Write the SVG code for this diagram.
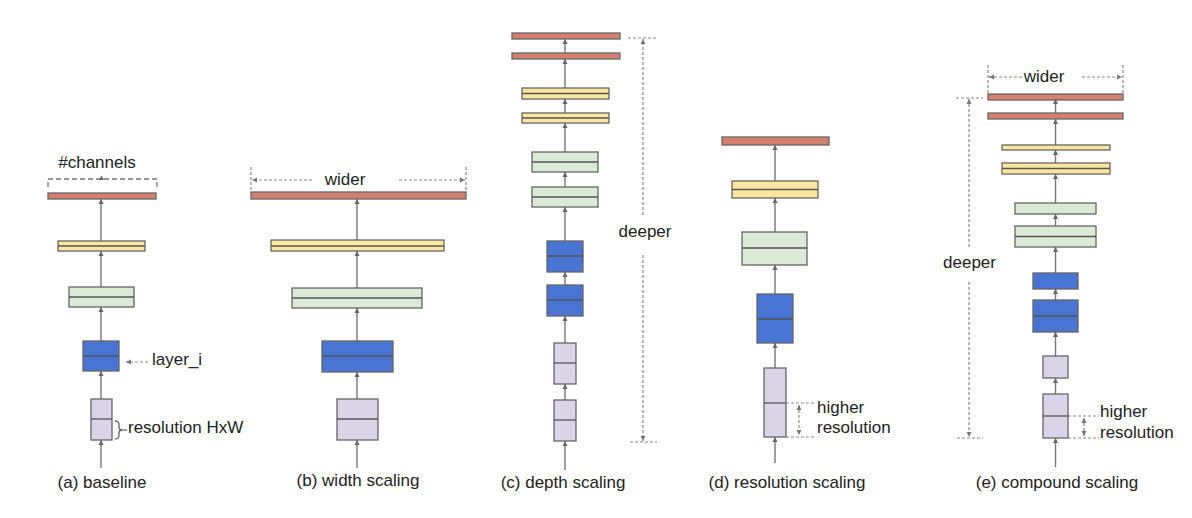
<svg xmlns="http://www.w3.org/2000/svg" width="1192" height="518" viewBox="0 0 1192 518">
<style>
text{font-family:"Liberation Sans",Arial,sans-serif;font-size:17px;fill:#222}
.lbl{text-anchor:middle}
.b{stroke:#666;stroke-width:1.3}
.r{fill:#d5806e}
.y{fill:#fde7a0}
.g{fill:#dbead4}
.u{fill:#4874d3}
.p{fill:#d9d4e8}
.m{stroke:#555;stroke-width:1.3}
.c{stroke:#777;stroke-width:1.4;fill:none;marker-end:url(#ah)}
.d{stroke:#888;stroke-width:1.2;fill:none;stroke-dasharray:3 2}
.dk{stroke:#777;stroke-width:1.3;fill:none;stroke-dasharray:5 3}
</style>
<defs>
<marker id="ah" markerUnits="userSpaceOnUse" markerWidth="6" markerHeight="6" refX="5" refY="3" orient="auto">
<path d="M0,0.5 L5,3 L0,5.5 z" fill="#666"/>
</marker>
<marker id="dh" markerUnits="userSpaceOnUse" markerWidth="6" markerHeight="6" refX="5" refY="3" orient="auto-start-reverse">
<path d="M0,0.5 L5,3 L0,5.5 z" fill="#777"/>
</marker>
</defs>
<rect width="1192" height="518" fill="#fff"/>

<g id="connectors">
<!-- a -->
<line class="c" x1="101" y1="468" x2="101" y2="440"/>
<line class="c" x1="101" y1="399" x2="101" y2="371"/>
<line class="c" x1="101" y1="341" x2="101" y2="307"/>
<line class="c" x1="101" y1="287" x2="101" y2="251"/>
<line class="c" x1="101" y1="241" x2="101" y2="199"/>
<!-- b -->
<line class="c" x1="357" y1="468" x2="357" y2="440"/>
<line class="c" x1="357" y1="399" x2="357" y2="372"/>
<line class="c" x1="357" y1="341" x2="357" y2="308"/>
<line class="c" x1="357" y1="288" x2="357" y2="251"/>
<line class="c" x1="357" y1="240" x2="357" y2="199"/>
<!-- c -->
<line class="c" x1="565" y1="470" x2="565" y2="441"/>
<line class="c" x1="565" y1="400" x2="565" y2="384"/>
<line class="c" x1="565" y1="343" x2="565" y2="316"/>
<line class="c" x1="565" y1="285" x2="565" y2="272"/>
<line class="c" x1="565" y1="241" x2="565" y2="207"/>
<line class="c" x1="565" y1="187" x2="565" y2="172"/>
<line class="c" x1="565" y1="152" x2="565" y2="123"/>
<line class="c" x1="565" y1="113" x2="565" y2="99"/>
<line class="c" x1="565" y1="88" x2="565" y2="59"/>
<line class="c" x1="565" y1="53" x2="565" y2="39"/>
<!-- d -->
<line class="c" x1="775" y1="463" x2="775" y2="437"/>
<line class="c" x1="775" y1="368" x2="775" y2="343"/>
<line class="c" x1="775" y1="294" x2="775" y2="265"/>
<line class="c" x1="775" y1="232" x2="775" y2="198"/>
<line class="c" x1="775" y1="181" x2="775" y2="145"/>
<!-- e -->
<line class="c" x1="1055.5" y1="467" x2="1055.5" y2="438"/>
<line class="c" x1="1055.5" y1="394" x2="1055.5" y2="378"/>
<line class="c" x1="1055.5" y1="356" x2="1055.5" y2="332"/>
<line class="c" x1="1055.5" y1="300" x2="1055.5" y2="289"/>
<line class="c" x1="1055.5" y1="273" x2="1055.5" y2="247"/>
<line class="c" x1="1055.5" y1="226" x2="1055.5" y2="214"/>
<line class="c" x1="1055.5" y1="203" x2="1055.5" y2="174"/>
<line class="c" x1="1055.5" y1="163" x2="1055.5" y2="150"/>
<line class="c" x1="1055.5" y1="145" x2="1055.5" y2="119"/>
<line class="c" x1="1055.5" y1="113" x2="1055.5" y2="99"/>
</g>

<g id="annotations">
<!-- #channels bracket -->
<path class="dk" d="M48,187 V179 H157 V187"/>
<path d="M99,180 L101.5,175.5 L104,180 z" fill="#666"/>
<text x="97" y="168" class="lbl">#channels</text>
<!-- layer_i -->
<line class="d" x1="148" y1="362" x2="126" y2="362" marker-end="url(#dh)"/>
<text x="152" y="365">layer_i</text>
<!-- resolution HxW -->
<path d="M115,421 Q119,421 119,425 V427 Q119,430 122,430 Q119,430 119,433 V435 Q119,439 115,439" stroke="#666" stroke-width="1.3" fill="none"/>
<line x1="122" y1="430" x2="127" y2="430" stroke="#666" stroke-width="1.2"/>
<text x="128" y="433">resolution HxW</text>
<!-- b wider -->
<line class="d" x1="251" y1="167" x2="251" y2="193"/>
<line class="d" x1="466" y1="167" x2="466" y2="193"/>
<line class="d" x1="312" y1="180" x2="252" y2="180" marker-end="url(#dh)"/>
<line class="d" x1="399" y1="180" x2="465" y2="180" marker-end="url(#dh)"/>
<text x="345" y="185" class="lbl">wider</text>
<!-- c deeper -->
<line class="d" x1="628" y1="38" x2="656" y2="38"/>
<line class="d" x1="643" y1="215" x2="643" y2="39" marker-end="url(#dh)"/>
<line class="d" x1="643" y1="255" x2="643" y2="441" marker-end="url(#dh)"/>
<line class="d" x1="630" y1="442" x2="657" y2="442"/>
<text x="645" y="237" class="lbl">deeper</text>
<!-- d higher resolution -->
<line class="d" x1="786" y1="403" x2="814" y2="403"/>
<line class="d" x1="786" y1="437" x2="814" y2="437"/>
<line class="d" x1="799" y1="405" x2="799" y2="435" marker-start="url(#dh)" marker-end="url(#dh)"/>
<text x="817" y="413">higher</text>
<text x="817" y="433">resolution</text>
<!-- e wider -->
<line class="d" x1="988" y1="65" x2="988" y2="93"/>
<line class="d" x1="1123" y1="65" x2="1123" y2="93"/>
<line class="d" x1="1022" y1="77" x2="989" y2="77" marker-end="url(#dh)"/>
<line class="d" x1="1082" y1="77" x2="1122" y2="77" marker-end="url(#dh)"/>
<text x="1044" y="82" class="lbl">wider</text>
<!-- e deeper -->
<line class="d" x1="956" y1="98" x2="983" y2="98"/>
<line class="d" x1="969" y1="247" x2="969" y2="99" marker-end="url(#dh)"/>
<line class="d" x1="969" y1="282" x2="969" y2="437" marker-end="url(#dh)"/>
<line class="d" x1="957" y1="438" x2="983" y2="438"/>
<text x="969.5" y="268" class="lbl">deeper</text>
<!-- e higher resolution -->
<line class="d" x1="1068" y1="416" x2="1099" y2="416"/>
<line class="d" x1="1068" y1="438" x2="1099" y2="438"/>
<line class="d" x1="1084" y1="418" x2="1084" y2="436" marker-start="url(#dh)" marker-end="url(#dh)"/>
<text x="1100" y="417">higher</text>
<text x="1100" y="438">resolution</text>
</g>

<g id="col-a">
<rect class="b r" x="48" y="193" width="108" height="6"/>
<rect class="b y" x="58" y="241" width="87" height="10"/><line class="m" x1="58" y1="246" x2="145" y2="246"/>
<rect class="b g" x="69" y="287" width="65" height="20"/><line class="m" x1="69" y1="297" x2="134" y2="297"/>
<rect class="b u" x="83" y="341" width="36" height="30"/><line class="m" x1="83" y1="356" x2="119" y2="356"/>
<rect class="b p" x="91" y="399" width="21" height="41"/><line class="m" x1="91" y1="419" x2="112" y2="419"/>
<text x="102" y="488" class="lbl">(a) baseline</text>
</g>

<g id="col-b">
<rect class="b r" x="251" y="192" width="215" height="7"/>
<rect class="b y" x="271" y="240" width="173" height="11"/><line class="m" x1="271" y1="246" x2="444" y2="246"/>
<rect class="b g" x="292" y="288" width="130" height="20"/><line class="m" x1="292" y1="298" x2="422" y2="298"/>
<rect class="b u" x="322" y="341" width="71" height="31"/><line class="m" x1="322" y1="356" x2="393" y2="356"/>
<rect class="b p" x="337" y="399" width="41" height="41"/><line class="m" x1="337" y1="419" x2="378" y2="419"/>
<text x="358" y="486" class="lbl">(b) width scaling</text>
</g>

<g id="col-c">
<rect class="b r" x="512" y="33" width="108" height="6"/>
<rect class="b r" x="512" y="53" width="108" height="6"/>
<rect class="b y" x="522" y="88" width="87" height="11"/><line class="m" x1="522" y1="93.5" x2="609" y2="93.5"/>
<rect class="b y" x="522" y="113" width="87" height="10"/><line class="m" x1="522" y1="118" x2="609" y2="118"/>
<rect class="b g" x="532" y="152" width="66" height="20"/><line class="m" x1="532" y1="162" x2="598" y2="162"/>
<rect class="b g" x="532" y="187" width="66" height="20"/><line class="m" x1="532" y1="197" x2="598" y2="197"/>
<rect class="b u" x="547" y="241" width="36" height="31"/><line class="m" x1="547" y1="256" x2="583" y2="256"/>
<rect class="b u" x="547" y="285" width="36" height="31"/><line class="m" x1="547" y1="300" x2="583" y2="300"/>
<rect class="b p" x="554" y="343" width="22" height="41"/><line class="m" x1="554" y1="363" x2="576" y2="363"/>
<rect class="b p" x="554" y="400" width="22" height="41"/><line class="m" x1="554" y1="420" x2="576" y2="420"/>
<text x="563" y="488" class="lbl">(c) depth scaling</text>
</g>

<g id="col-d">
<rect class="b r" x="722" y="137" width="107" height="8"/>
<rect class="b y" x="732" y="181" width="86" height="17"/><line class="m" x1="732" y1="189.5" x2="818" y2="189.5"/>
<rect class="b g" x="742" y="232" width="65" height="33"/><line class="m" x1="742" y1="248" x2="807" y2="248"/>
<rect class="b u" x="757" y="294" width="36" height="49"/><line class="m" x1="757" y1="319" x2="793" y2="319"/>
<rect class="b p" x="764" y="368" width="22" height="69"/><line class="m" x1="764" y1="403" x2="786" y2="403"/>
<text x="787" y="488" class="lbl">(d) resolution scaling</text>
</g>

<g id="col-e">
<rect class="b r" x="988" y="94" width="135" height="6"/>
<rect class="b r" x="988" y="113" width="135" height="6"/>
<rect class="b y" x="1002" y="145" width="108" height="5"/>
<rect class="b y" x="1002" y="163" width="108" height="11"/><line class="m" x1="1002" y1="168.5" x2="1110" y2="168.5"/>
<rect class="b g" x="1015" y="203" width="81" height="11"/>
<rect class="b g" x="1015" y="226" width="81" height="21"/><line class="m" x1="1015" y1="236.5" x2="1096" y2="236.5"/>
<rect class="b u" x="1033" y="273" width="45" height="16"/>
<rect class="b u" x="1033" y="300" width="45" height="32"/><line class="m" x1="1033" y1="316" x2="1078" y2="316"/>
<rect class="b p" x="1043" y="356" width="25" height="22"/>
<rect class="b p" x="1043" y="394" width="25" height="44"/><line class="m" x1="1043" y1="416" x2="1068" y2="416"/>
<text x="1057" y="488" class="lbl">(e) compound scaling</text>
</g>
</svg>
